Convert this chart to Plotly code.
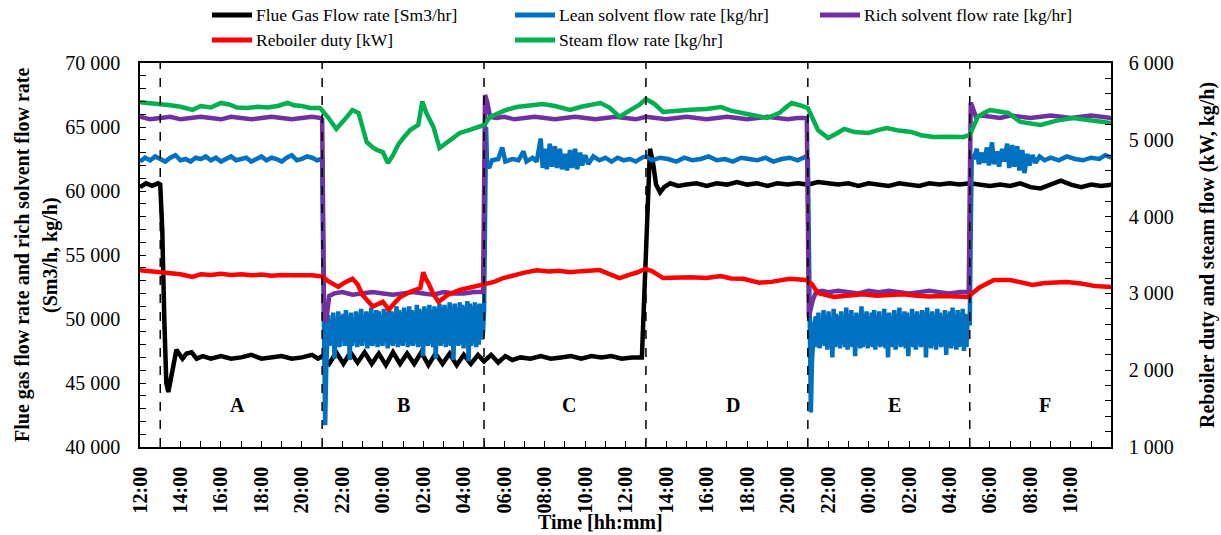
import numpy as np
import pandas as pd
import plotly.graph_objects as go

# ---------------- data (time in hours after 12:00 on day 1) ----------------
flue_t = [0, 0.3, 0.6, 0.9, 1.0, 1.1, 1.2, 1.3, 1.4, 1.55, 1.8, 2.1, 2.3, 2.55, 2.8, 3.1, 3.5, 4.0, 4.5,
          5.0, 5.5, 6.0, 6.5, 7.0, 7.5, 8.0, 8.5, 8.8,
          9.0, 9.35, 9.7, 10.05, 10.4, 10.75, 11.1, 11.45, 11.8, 12.15, 12.5, 12.85, 13.2, 13.55, 13.9,
          14.25, 14.6, 14.95, 15.3, 15.65, 16.0, 16.35, 16.7, 17.0,
          17.35, 17.7, 18.05, 18.4, 18.8, 19.3, 19.8, 20.3, 20.8, 21.3, 21.8, 22.3, 22.8, 23.3, 23.8, 24.3, 24.8,
          25.0, 25.2, 25.35, 25.5, 25.7, 25.9, 26.2, 26.6, 27.0, 27.5, 28.0, 28.5, 29.0, 29.5, 30.0, 30.5,
          31.0, 31.5, 32.0, 32.5, 33.0, 33.5, 34.0, 34.5, 35.0, 35.5, 36.0, 36.5, 37.0, 37.5, 38.0, 38.5,
          39.0, 39.5, 40.0, 40.5, 41.0, 41.5, 42.0, 42.5, 43.0, 43.5, 44.0, 44.5, 45.0, 45.5, 46.0, 46.5,
          47.0, 47.5, 48.0]
flue_v = [60300, 60600, 60400, 60600, 60500, 57000, 50000, 45000, 44300, 45500, 47600, 46900, 47300, 47400,
          46900, 47100, 46900, 47100, 46900, 47000, 47200, 46900, 47000, 47100, 46900, 47000, 47200, 46900,
          47100, 46500, 47400, 46500, 47400, 46600, 47400, 46500, 47300, 46400, 47400, 46500, 47300, 46500,
          47400, 46400, 47300, 46500, 47300, 46400, 47200, 46500, 47200, 46700,
          47200, 46600, 47100, 46800, 47000, 46900, 47100, 46900, 47000, 47100, 46900, 47100, 47000, 47100,
          46900, 47000, 47000,
          55000, 63300, 62200, 60500, 59900, 60300, 60600, 60400, 60500, 60600, 60400, 60600, 60500, 60700,
          60500, 60600, 60400, 60600, 60500, 60600, 60500, 60700, 60600, 60500, 60600, 60400, 60600, 60500,
          60400, 60600, 60500, 60400, 60600, 60500, 60600, 60500, 60600, 60500, 60400, 60500, 60400, 60600,
          60300, 60200, 60500, 60800, 60500, 60300, 60500, 60400, 60500]

# lean solvent: steady stretches given point by point ...
lean_a_t = [0, 0.25, 0.5, 0.75, 1.0, 1.25, 1.5, 1.75, 2.0, 2.25, 2.5, 2.75, 3.0, 3.25, 3.5, 3.75, 4.0, 4.25,
            4.5, 4.75, 5.0, 5.25, 5.5, 5.75, 6.0, 6.25, 6.5, 6.75, 7.0, 7.25, 7.5, 7.75, 8.0, 8.25, 8.5, 8.75,
            9.0, 9.05, 9.1, 9.15, 9.2, 9.25]
lean_a_v = [62300, 62600, 62400, 62700, 62500, 62300, 62600, 62800, 62400, 62500, 62300, 62600, 62500, 62700,
            62400, 62600, 62300, 62500, 62700, 62400, 62500, 62600, 62300, 62500, 62700, 62400, 62600, 62500,
            62300, 62600, 62800, 62400, 62500, 62700, 62600, 62400,
            62500, 55000, 45000, 41700, 46000, 49500]
# ... and the oscillating low-flow periods logged every 0.0625 h
LOG_STEP_H = 0.0625
lean_b_start_h = 9.3
lean_b_v = [50300, 47900, 49800, 48200, 50500, 46900, 50100, 48000, 50600, 47800, 50200, 48300, 50400, 47900,
            50700, 48100, 50300, 46800, 50500, 47900, 50000, 48200, 50600, 47800, 50400, 48000, 50800, 47900,
            50300, 48300, 50600, 47700, 50500, 48000, 50900, 47900, 50400, 48100, 50700, 47800, 50600, 48000,
            50300, 47900, 50800, 48200, 50500, 47700, 50900, 48000, 50600, 47900, 50400, 48100, 51000, 47800,
            50700, 48000, 50500, 47900, 50900, 48200, 50600, 47800, 51000, 48000, 50700, 47900, 50500, 48100,
            51100, 47800, 50800, 48000, 50600, 47100, 51000, 48000, 50800, 47900, 51100, 48100, 50700, 47800,
            51000, 46900, 50800, 48000, 51200, 47900, 50900, 48100, 51100, 47800, 50800, 48000, 51300, 47900,
            51000, 46800, 51200, 48000, 50900, 47900, 51300, 48100, 51100, 47700, 51000, 48000, 51400, 46700,
            51200, 47900, 51000, 48100, 51300, 47800, 51100, 48000, 51200, 48400]
lean_c_t = [16.95, 17.0, 17.05, 17.1, 17.15, 17.25, 17.4, 17.7, 17.9, 18.05, 18.4, 18.7, 18.95, 19.1, 19.4,
            19.6, 19.8, 19.9, 20.0, 20.1, 20.25, 20.35, 20.5, 20.6, 20.75, 20.85, 21.0, 21.1, 21.25, 21.35,
            21.5, 21.6, 21.75, 21.85, 22.0, 22.15, 22.4, 22.7, 23.0, 23.3, 23.6, 23.9, 24.2, 24.5, 24.8, 25.0,
            25.3, 25.7, 26.1, 26.5, 26.9, 27.3, 27.7, 28.1, 28.5, 28.9, 29.3, 29.7, 30.1, 30.5, 30.9, 31.3,
            31.7, 32.1, 32.5, 32.9, 33.0, 33.05, 33.1, 33.15, 33.2, 33.3]
lean_c_v = [49000, 50500, 57000, 65000, 62000, 61800, 62400, 62500, 63400, 62300, 62500, 62400, 63100, 62300,
            62600, 62300, 64100, 61800, 63300, 61700, 63700, 61900, 63500, 61800, 63300, 61700, 62900, 61600,
            63200, 61800, 63300, 61700, 63000, 62000, 62800, 62100, 62700, 62400, 62600, 62300, 62600, 62400,
            62500, 62300, 62600, 62700, 62400, 62600, 62500, 62300, 62600, 62400, 62500, 62700, 62400, 62500,
            62300, 62600, 62500, 62400, 62600, 62300, 62500, 62600, 62400, 62700, 62500, 56000, 46000, 42700,
            46500, 49500]
lean_e_start_h = 33.4
lean_e_v = [50200, 47800, 50500, 47700, 50000, 48000, 50700, 47900, 50300, 47600, 50600, 48000, 50100, 47000,
            50800, 47800, 50400, 47900, 50200, 47700, 50600, 48000, 50300, 47800, 50900, 47600, 50400, 47900,
            50700, 47800, 50200, 47100, 50500, 47900, 50300, 47700, 51000, 47800, 50400, 48000, 50600, 47700,
            50200, 47900, 50500, 47800, 50700, 47600, 50300, 48000, 50600, 47800, 50100, 47900, 50800, 47700,
            50400, 47000, 50500, 47900, 50200, 47800, 50700, 47600, 50400, 48000, 50900, 47800, 50300, 47900,
            50600, 47700, 50500, 47100, 50200, 47900, 50800, 47800, 50400, 47600, 50600, 48000, 50300, 47800,
            50700, 47900, 50500, 47000, 50900, 47800, 50400, 47700, 50600, 47900, 50300, 47600, 50800, 48000,
            50500, 47800, 50200, 47900, 50700, 47200, 50400, 47800, 50600, 47700, 50900, 47900, 50300, 47600,
            50700, 47800, 50500, 47900, 50800, 47500, 50400, 47800, 50300]
lean_f_t = [41.0, 41.05, 41.1, 41.2, 41.35, 41.45, 41.6, 41.7, 41.85, 41.95, 42.1, 42.2, 42.35, 42.45, 42.6,
            42.7, 42.85, 42.95, 43.1, 43.2, 43.35, 43.45, 43.6, 43.7, 43.85, 43.95, 44.1, 44.25, 44.45, 44.7,
            45.0, 45.4, 45.8, 46.2, 46.6, 47.0, 47.4, 47.7, 48.0]
lean_f_v = [49500, 57000, 62800, 62500, 63300, 62100, 63000, 62200, 63400, 62000, 63800, 62100, 63100, 61900,
            63300, 62300, 63700, 61800, 63600, 61900, 63500, 61600, 63200, 61400, 62900, 62000, 62800, 62200,
            62700, 62400, 62600, 62400, 62700, 62500, 62400, 62600, 62500, 62800, 62600]

rich_t = [0, 0.5, 1.0, 1.5, 2.0, 2.5, 3.0, 3.5, 4.0, 4.5, 5.0, 5.5, 6.0, 6.5, 7.0, 7.5, 8.0, 8.5, 8.95,
          9.0, 9.05, 9.1, 9.2, 9.35, 9.6, 10.0, 10.5, 11.0, 11.5, 12.0, 12.5, 13.0, 13.5, 14.0, 14.5, 15.0,
          15.5, 16.0, 16.5, 16.95,
          17.0, 17.05, 17.15, 17.3, 17.6, 18.0, 18.5, 19.0, 19.5, 20.0, 20.5, 21.0, 21.5, 22.0, 22.5, 23.0,
          23.5, 24.0, 24.5, 25.0, 25.5, 26.0, 26.5, 27.0, 27.5, 28.0, 28.5, 29.0, 29.5, 30.0, 30.5, 31.0,
          31.5, 32.0, 32.5, 32.95,
          33.0, 33.05, 33.1, 33.25, 33.4, 33.7, 34.0, 34.5, 35.0, 35.5, 36.0, 36.5, 37.0, 37.5, 38.0, 38.5,
          39.0, 39.5, 40.0, 40.5, 40.95,
          41.0, 41.05, 41.15, 41.3, 41.6, 42.0, 42.5, 43.0, 43.5, 44.0, 44.5, 45.0, 45.5, 46.0, 46.5, 47.0,
          47.5, 48.0]
rich_v = [65800, 65600, 65700, 65800, 65600, 65700, 65800, 65700, 65600, 65800, 65700, 65600, 65700, 65800,
          65700, 65600, 65700, 65800, 65700,
          65600, 58000, 50000, 49800, 51800, 52000, 52100, 51900, 52000, 52100, 52000, 51900, 52000, 52100,
          52000, 51900, 52100, 52000, 52000, 52100, 52100,
          60000, 67500, 67000, 65800, 65700, 65800, 65600, 65700, 65800, 65700, 65600, 65700, 65800, 65700,
          65600, 65700, 65800, 65700, 65600, 65800, 65700, 65600, 65700, 65800, 65700, 65600, 65700, 65800,
          65700, 65600, 65700, 65800, 65700, 65600, 65700, 65700,
          58000, 50100, 50500, 51500, 52100, 52200, 52100, 52200, 52100, 52000, 52200, 52100, 52200, 52100,
          52000, 52100, 52200, 52100, 52000, 52100, 52100,
          60000, 66900, 66500, 65800, 65900, 65800, 65700, 65900, 65800, 65700, 65800, 65900, 65800, 65700,
          65800, 65900, 65800, 65700]

reboiler_t = [0, 0.5, 1.0, 1.5, 2.0, 2.6, 3.0, 3.5, 4.0, 4.5, 5.0, 5.5, 6.0, 6.5, 7.0, 7.5, 8.0, 8.5, 9.0,
              9.3, 9.8, 10.1, 10.5, 10.75, 11.0, 11.5, 12.0, 12.3, 12.6, 12.85, 13.35, 13.85, 14.0, 14.1,
              14.25, 14.5, 14.75, 15.2, 15.8, 16.4, 17.0, 17.5, 17.95, 18.5, 19.0, 19.6, 20.2, 20.7, 21.25,
              21.8, 22.3, 22.7, 23.2, 23.7, 24.2, 24.6, 24.95, 25.3, 25.85, 26.5, 27.2, 28.0, 28.7, 29.2,
              29.8, 30.6, 31.2, 32.1, 32.9, 33.2, 33.5, 34.3, 35.0, 35.7, 36.4, 37.0, 37.7, 38.4, 39.0,
              39.7, 40.4, 40.9, 41.5, 42.2, 43.0, 43.6, 44.1, 44.7, 45.3, 45.8, 46.5, 47.2, 48.0]
reboiler_v = [3300, 3290, 3280, 3270, 3250, 3215, 3250, 3240, 3255, 3240, 3250, 3235, 3245, 3230, 3240, 3235,
              3240, 3235, 3220, 3160, 3085, 3140, 3190, 3120, 2980, 2830, 2890, 2790, 2880, 2950, 3020, 3070,
              3275, 3200, 3135, 2990, 2890, 2980, 3045, 3080, 3110, 3150, 3200, 3240, 3270, 3300, 3285, 3295,
              3275, 3290, 3300, 3305, 3250, 3200, 3245, 3275, 3320, 3290, 3200, 3205, 3210, 3200, 3225, 3195,
              3190, 3140, 3150, 3190, 3175, 3120, 3005, 2955, 2975, 2990, 2970, 2985, 2990, 2970, 2960, 2965,
              2955, 2955, 3080, 3175, 3175, 3140, 3110, 3135, 3150, 3148, 3130, 3095, 3083]

steam_t = [0, 0.5, 1.0, 1.5, 2.0, 2.6, 3.0, 3.5, 4.0, 4.4, 4.8, 5.3, 5.8, 6.3, 6.8, 7.3, 7.6, 8.0, 8.4, 8.9,
           9.3, 9.7, 10.1, 10.5, 10.8, 11.0, 11.2, 11.5, 11.7, 12.0, 12.25, 12.5, 12.75, 13.0, 13.35, 13.75,
           13.95, 14.15, 14.5, 14.8, 15.2, 15.8, 16.3, 16.8, 17.0, 17.3, 17.5, 18.0, 18.6, 19.2, 19.9, 20.5,
           21.25, 21.8, 22.3, 22.75, 23.2, 23.7, 24.0, 24.4, 24.7, 25.0, 25.4, 25.85, 26.5, 27.2, 28.0,
           28.7, 29.2, 29.7, 30.3, 31.0, 31.6, 32.0, 32.2, 32.6, 33.0, 33.5, 34.0, 34.4, 34.8, 35.3, 36.0,
           36.5, 36.9, 37.5, 38.1, 38.6, 39.2, 39.9, 40.7, 41.0, 41.4, 41.7, 42.0, 42.9, 43.5, 44.5, 45.3,
           46.1, 46.8, 47.4, 48.0]
steam_v = [5490, 5480, 5466, 5450, 5430, 5390, 5440, 5420, 5480, 5460, 5420, 5414, 5430, 5420, 5440, 5480,
           5450, 5440, 5414, 5414, 5290, 5141, 5260, 5388, 5349, 5150, 4971, 4900, 4867, 4841, 4698, 4800,
           4932, 5020, 5128, 5193, 5500, 5349, 5167, 4893, 4971, 5089, 5128, 5167, 5193, 5297, 5323, 5380,
           5427, 5450, 5466, 5440, 5388, 5430, 5460, 5479, 5420, 5297, 5350, 5414, 5460, 5531, 5470, 5362,
           5380, 5390, 5400, 5427, 5380, 5349, 5320, 5284, 5350, 5440, 5479, 5450, 5414, 5128, 5024, 5080,
           5141, 5100, 5089, 5130, 5154, 5120, 5102, 5060, 5037, 5040, 5037, 5063, 5300, 5349, 5388, 5349,
           5232, 5193, 5250, 5284, 5260, 5240, 5219]

# operating periods: start hour of each period and its label position
period_start_h = [1, 9, 17, 25, 33, 41]
period_labels = ["A", "B", "C", "D", "E", "F"]
period_label_h = [4.8, 13.0, 21.2, 29.3, 37.3, 44.7]

T0 = pd.Timestamp("2021-03-01 12:00")
END_H = 47.98   # axis stops just short of 12:00 on day 3


def to_time(hours):
    return T0 + pd.to_timedelta(hours, unit="h")


def logged_times(start_h, n):
    return list(start_h + LOG_STEP_H * np.arange(n))


lean_t = lean_a_t + logged_times(lean_b_start_h, len(lean_b_v)) + lean_c_t \
    + logged_times(lean_e_start_h, len(lean_e_v)) + lean_f_t
lean_v = lean_a_v + lean_b_v + lean_c_v + lean_e_v + lean_f_v

FONT = "Liberation Serif"
W, H = 1221, 535
M_L, M_R, M_T, M_B = 140, 110, 63, 88
PLOT_W, PLOT_H = W - M_L - M_R, H - M_T - M_B


def px_x(px):
    """Horizontal pixel position -> paper fraction."""
    return (px - M_L) / PLOT_W


def px_y(py):
    """Vertical pixel position (from top) -> paper fraction."""
    return (H - M_B - py) / PLOT_H


series = [
    ("Flue Gas Flow rate [Sm3/hr]", flue_t, flue_v, "#000000", "y"),
    ("Lean solvent flow rate [kg/hr]", lean_t, lean_v, "#0070C0", "y"),
    ("Rich solvent flow rate [kg/hr]", rich_t, rich_v, "#7030A0", "y"),
    ("Reboiler duty [kW]", reboiler_t, reboiler_v, "#FF0000", "y2"),
    ("Steam flow rate [kg/hr]", steam_t, steam_v, "#00B050", "y2"),
]

fig = go.Figure()
for name, t, v, color, yax in series:
    fig.add_trace(go.Scatter(
        x=to_time(pd.Series(t, dtype=float)), y=v, name=name, mode="lines",
        line=dict(color=color, width=4.5), yaxis=yax, showlegend=False,
    ))

# legend laid out in two rows above the plot (three entries, then two)
legend_cols_px = [212, 515, 820]
legend_rows_px = [15, 40]
for i, (name, _, _, color, _) in enumerate(series):
    col, row = (i, 0) if i < 3 else (i - 3, 1)
    x0 = legend_cols_px[col]
    yy = px_y(legend_rows_px[row])
    fig.add_shape(type="line", xref="paper", yref="paper", x0=px_x(x0), x1=px_x(x0 + 40), y0=yy, y1=yy,
                  line=dict(color=color, width=5))
    fig.add_annotation(x=px_x(x0 + 42), y=yy, xref="paper", yref="paper", xanchor="left",
                       yanchor="middle", text=name, showarrow=False,
                       font=dict(family=FONT, size=17.5, color="black"))

# dashed separators between periods
for h in period_start_h:
    fig.add_shape(type="line", xref="x", yref="paper", x0=to_time(h), x1=to_time(h), y0=0, y1=1,
                  line=dict(color="black", width=1.5, dash="dash"), layer="above")

for lab, h in zip(period_labels, period_label_h):
    fig.add_annotation(x=to_time(h), y=px_y(418), xref="x", yref="paper", text=f"<b>{lab}</b>",
                       showarrow=False, font=dict(family=FONT, size=20, color="black"))

# axis titles
title_font = dict(family=FONT, size=20, color="black")
fig.add_annotation(x=px_x(22), y=0.5, xref="paper", yref="paper", xanchor="center", yanchor="middle",
                   textangle=-90, showarrow=False,
                   text="<b>Flue gas flow rate and rich solvent flow rate</b>", font=title_font)
fig.add_annotation(x=px_x(50), y=0.5, xref="paper", yref="paper", xanchor="center", yanchor="middle",
                   textangle=-90, showarrow=False, text="<b>(Sm3/h, kg/h)</b>", font=title_font)
fig.add_annotation(x=px_x(1207), y=0.5, xref="paper", yref="paper", xanchor="center", yanchor="middle",
                   textangle=-90, showarrow=False,
                   text="<b>Reboiler duty and steam flow (kW, kg/h)</b>", font=title_font)
fig.add_annotation(x=px_x(600), y=px_y(522), xref="paper", yref="paper", xanchor="center",
                   yanchor="middle", showarrow=False, text="<b>Time [hh:mm]</b>", font=title_font)

axis_common = dict(showline=True, linecolor="black", linewidth=1.5, ticks="inside", ticklen=6,
                   tickcolor="black", tickwidth=1.2, showgrid=False, zeroline=False, automargin=False)

fig.update_layout(
    width=W, height=H,
    margin=dict(l=M_L, r=M_R, t=M_T, b=M_B, autoexpand=False),
    paper_bgcolor="white", plot_bgcolor="white",
    separators=". ",
    font=dict(family=FONT, color="black"),
    showlegend=False,
    xaxis=dict(
        type="date", range=[to_time(0), to_time(END_H)], tickformat="%H:%M",
        tick0=to_time(0), dtick=2 * 3600 * 1000, tickangle=-90, mirror=True,
        tickfont=dict(family=FONT, size=20, color="black", weight="bold"),
        minor=dict(dtick=3600 * 1000, ticks="inside", ticklen=6, tickcolor="black"),
        ticklabelstandoff=10,
        **axis_common,
    ),
    yaxis=dict(
        range=[40000, 70000], dtick=5000, tickformat=",d",
        tickfont=dict(family=FONT, size=20, color="black"),
        minor=dict(dtick=1000, ticks="inside", ticklen=6, tickcolor="black"),
        ticklabelstandoff=14,
        **axis_common,
    ),
    yaxis2=dict(
        range=[1000, 6000], dtick=1000, tickformat=",d", overlaying="y", side="right",
        tickfont=dict(family=FONT, size=20, color="black"),
        minor=dict(dtick=200, ticks="inside", ticklen=6, tickcolor="black"),
        ticklabelstandoff=12,
        **axis_common,
    ),
)

fig.write_html("out.html")
